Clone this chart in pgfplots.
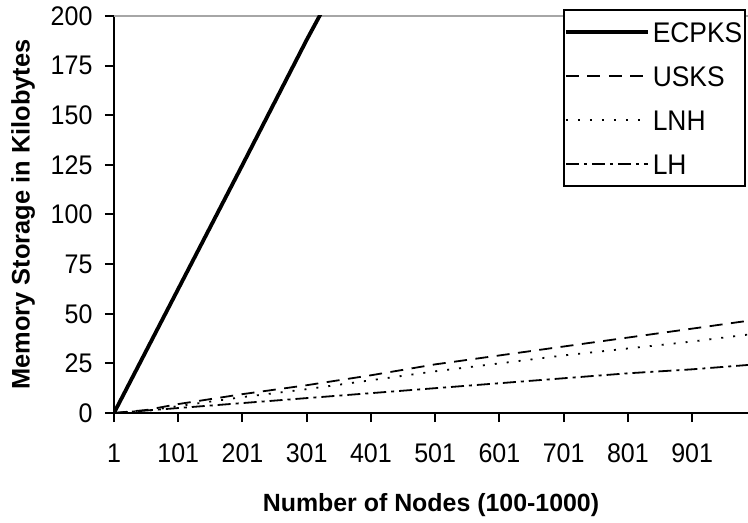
\documentclass[border=0pt]{standalone}
\usepackage{fontspec}
\setmainfont[FakeStretch=0.93]{Liberation Sans}
\newfontfamily\labfont{Liberation Sans}
\usepackage{pgfplots}
\pgfplotsset{compat=1.18}
\begin{document}
\begin{tikzpicture}
\path[use as bounding box] (-114bp,-110bp) rectangle (634bp,413bp);
\begin{axis}[
  at={(0,0)}, anchor=south west,
  scale only axis, width=634bp, height=397bp,
  xmin=1, xmax=988, ymin=0, ymax=200,
  xtick={1,101,201,301,401,501,601,701,801,901},
  ytick={0,25,50,75,100,125,150,175,200},
  axis x line=bottom, axis y line=left,
  axis line style={-, line width=2bp, black},
  tick style={line width=2bp, black},
  tick align=outside,
  major tick length=9bp,
  /pgf/number format/assume math mode=true,
  tick label style={font=\fontsize{27}{32}\selectfont},
  xticklabel style={yshift=-18bp},
  yticklabel style={xshift=-9bp},
  extra y ticks={200}, extra y tick labels={},
  extra y tick style={grid=major, major grid style={gray!70, line width=1.6bp}, major tick length=0pt},
  xlabel={Number of Nodes (100-1000)},
  ylabel={Memory Storage in Kilobytes},
  every axis x label/.style={at={(axis description cs:0.5,0)}, yshift=-92bp, anchor=center, font=\labfont\fontsize{25}{30}\selectfont\bfseries},
  every axis y label/.style={at={(axis description cs:-0.1435,0.5)}, rotate=90, anchor=center, font=\labfont\fontsize{25.5}{30}\selectfont\bfseries},
  legend cell align=left,
  legend style={at={(axis description cs:0.7082,1.0176)}, anchor=north west, draw=black, line width=2bp,
    inner sep=0bp, font=\fontsize{28.5}{32}\selectfont,
    nodes={inner xsep=3bp, inner ysep=12bp, text height=20bp, text depth=0bp}},
  legend image code/.code={\draw[#1] (0bp,0bp) -- (82bp,0bp);},
]
\addplot[black, line width=3.8bp] coordinates {(1,0) (101,62.5) (201,125) (301,188) (321,200) (401,250)};
\addlegendentry{ECPKS}
\addplot[black, line width=1.8bp, dash pattern=on 13bp off 8.5bp] coordinates {(1,0) (51,1.5) (101,4.5) (201,9.5) (301,14) (401,19) (501,24.5) (601,29) (701,33.5) (801,38) (901,42.5) (1000,47)};
\addlegendentry{USKS}
\addplot[black, line width=1.8bp, dash pattern=on 2bp off 10bp] coordinates {(1,0) (51,1) (101,3.5) (201,8) (301,12) (401,16.5) (501,21) (601,25) (701,29) (801,32.5) (901,36) (1000,40)};
\addlegendentry{LNH}
\addplot[black, line width=1.8bp, dash pattern=on 13bp off 5bp on 3bp off 5bp] coordinates {(1,0) (101,2.5) (201,5) (301,7.5) (401,10) (501,12.5) (601,15) (701,17.5) (801,20) (901,22) (1000,24.5)};
\addlegendentry{LH}
\end{axis}
\end{tikzpicture}
\end{document}
